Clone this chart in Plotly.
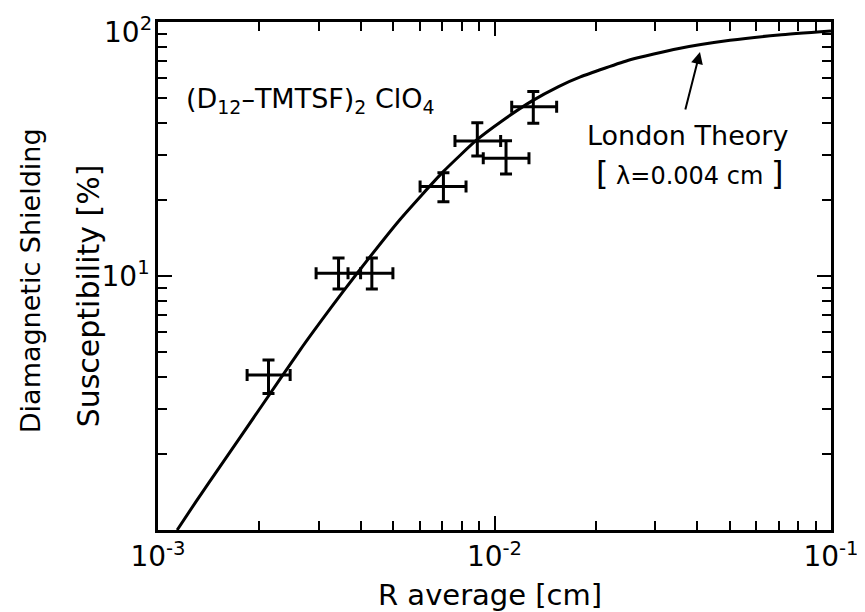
import plotly.graph_objects as go

# ---- data ----
r_avg = [0.00213, 0.00344, 0.00432, 0.00705, 0.00889, 0.01082, 0.01304]
r_lo = [0.00184, 0.00295, 0.00367, 0.00601, 0.00763, 0.00926, 0.01125]
r_hi = [0.00247, 0.00400, 0.00499, 0.00823, 0.01043, 0.01266, 0.01530]
chi = [4.08, 10.25, 10.25, 22.5, 34.0, 29.1, 46.4]
chi_lo = [3.45, 8.89, 8.89, 19.6, 29.7, 25.2, 39.9]
chi_hi = [4.67, 11.77, 11.77, 25.5, 40.1, 34.1, 53.2]

curve_r = [0.00114, 0.0013, 0.00153, 0.00203, 0.00264, 0.0033, 0.00385, 0.00524,
           0.00703, 0.00887, 0.0105, 0.0129, 0.0155, 0.018, 0.0253, 0.035, 0.0501,
           0.07, 0.1]
curve_chi = [1.0, 1.30, 1.78, 3.07, 5.1, 7.64, 10.0, 16.7, 25.7, 34.4, 40.7, 48.8,
             55.7, 60.8, 71.0, 78.5, 84.7, 88.9, 92.2]

x_tickvals = [0.001, 0.01, 0.1]
x_ticktext = ["10<sup>-3</sup>", "10<sup>-2</sup>", "10<sup>-1</sup>"]
y_tickvals = [1, 10, 100]
y_ticktext = ["", "10<sup>1</sup>", ""]
y_top_label = "10<sup>2</sup>"
x_minor = [2e-3, 3e-3, 4e-3, 5e-3, 6e-3, 7e-3, 8e-3, 9e-3,
           2e-2, 3e-2, 4e-2, 5e-2, 6e-2, 7e-2, 8e-2, 9e-2]
y_minor = [2, 3, 4, 5, 6, 7, 8, 9, 20, 30, 40, 50, 60, 70, 80, 90]

FONT = "DejaVu Sans"

fig = go.Figure()
fig.add_trace(go.Scatter(
    x=curve_r, y=curve_chi, mode="lines",
    line=dict(color="black", width=3, shape="spline", smoothing=0.5),
    hoverinfo="skip"))

fig.add_trace(go.Scatter(
    x=r_avg, y=chi, mode="markers",
    marker=dict(size=1, color="black"),
    error_x=dict(type="data", symmetric=False,
                 array=[h - v for h, v in zip(r_hi, r_avg)],
                 arrayminus=[v - l for v, l in zip(r_avg, r_lo)],
                 color="black", thickness=3, width=6),
    error_y=dict(type="data", symmetric=False,
                 array=[h - v for h, v in zip(chi_hi, chi)],
                 arrayminus=[v - l for v, l in zip(chi, chi_lo)],
                 color="black", thickness=3, width=6)))

axis_common = dict(
    type="log", showgrid=False, zeroline=False, automargin=False,
    showline=True, linecolor="black", linewidth=2.5, mirror="allticks",
    ticks="inside", ticklen=14, tickwidth=2, tickcolor="black",
    ticklabeloverflow="allow",
    tickfont=dict(family=FONT, size=28, color="black"),
)

fig.update_xaxes(**axis_common, range=[-3, -1], tickmode="array",
                 tickvals=x_tickvals, ticktext=x_ticktext,
                 minor=dict(ticks="inside", ticklen=9, tickwidth=2,
                            tickcolor="black", tickmode="array", tickvals=x_minor,
                            showgrid=False))
fig.update_yaxes(**axis_common, range=[0, 2], tickmode="array",
                 tickvals=y_tickvals, ticktext=y_ticktext,
                 minor=dict(ticks="inside", ticklen=9, tickwidth=2,
                            tickcolor="black", tickmode="array", tickvals=y_minor,
                            showgrid=False))

annots = [
    dict(text=y_top_label,
         xref="paper", yref="paper", x=0, y=1, xanchor="right", yanchor="top",
         xshift=-4, yshift=12, showarrow=False,
         font=dict(family=FONT, size=28, color="black")),
    dict(text="(D<sub>12</sub>–TMTSF)<sub>2</sub> ClO<sub>4</sub>",
         xref="paper", yref="paper", x=0.038, y=0.846, xanchor="left", yanchor="middle",
         showarrow=False, font=dict(family=FONT, size=27, color="black")),
    dict(text="London Theory",
         xref="paper", yref="paper", x=0.634, y=0.776, xanchor="left", yanchor="middle",
         showarrow=False, font=dict(family=FONT, size=27, color="black")),
    dict(text="<span style='font-size:32px'>[</span> λ=0.004 cm <span style='font-size:32px'>]</span>",
         xref="paper", yref="paper", x=0.648, y=0.703, xanchor="left", yanchor="middle",
         showarrow=False, font=dict(family=FONT, size=24, color="black")),
    dict(text="", x=-1.3894, y=1.8819, xref="x", yref="y",
         showarrow=True, arrowhead=2, arrowsize=1.2, arrowwidth=2, arrowcolor="black",
         ax=-15, ay=59),
    dict(text="R average [cm]",
         xref="paper", yref="paper", x=0.493, y=-0.128, xanchor="center", yanchor="middle",
         showarrow=False, font=dict(family=FONT, size=29, color="black")),
    dict(text="Diamagnetic Shielding",
         xref="paper", yref="paper", x=-0.19, y=0.49, xanchor="center", yanchor="middle",
         textangle=-90, showarrow=False, font=dict(family=FONT, size=27, color="black")),
    dict(text="Susceptibility [%]",
         xref="paper", yref="paper", x=-0.104, y=0.46, xanchor="center", yanchor="middle",
         textangle=-90, showarrow=False, font=dict(family=FONT, size=30, color="black")),
]
# page body has an 8px default margin; the figure is sized so the plot frame
# lands where the reference frame is.
fig.update_layout(
    width=857, height=604,
    margin=dict(l=150, r=34, t=14, b=82),
    paper_bgcolor="white", plot_bgcolor="white",
    showlegend=False,
    font=dict(family=FONT, color="black"),
    annotations=annots,
)

fig.write_html("out.html")
